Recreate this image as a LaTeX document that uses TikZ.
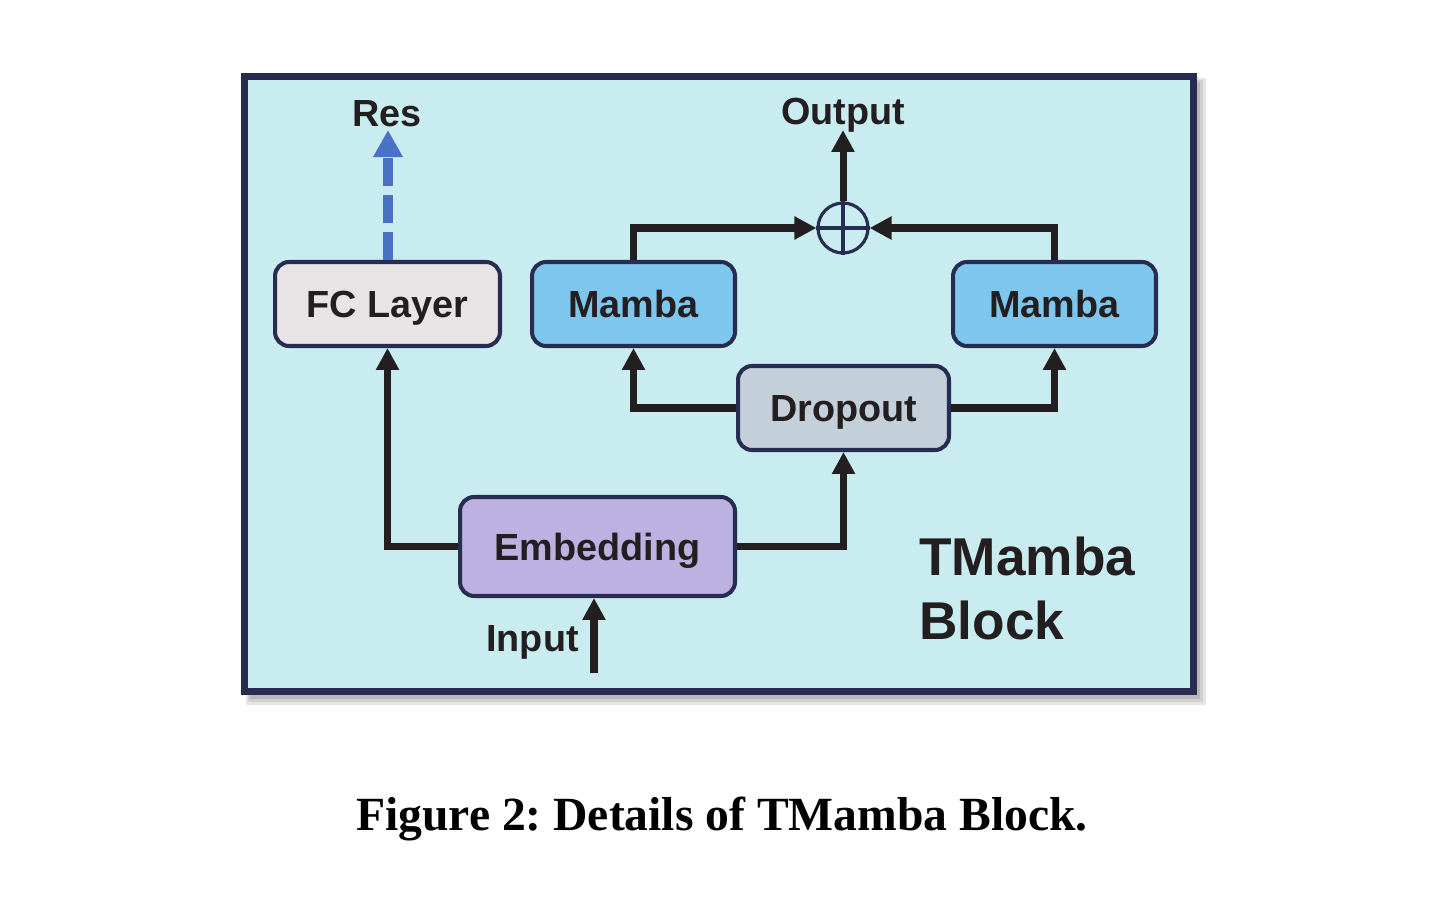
\documentclass[tikz,border=0pt]{standalone}
\usepackage{fontspec}
\setmainfont{Liberation Sans}
\newfontfamily\capfont{Liberation Serif}
\usetikzlibrary{arrows.meta}
\definecolor{frameblue}{HTML}{262D50}
\definecolor{bgcyan}{HTML}{C9ECF0}
\definecolor{fcfill}{HTML}{E8E4E6}
\definecolor{mambafill}{HTML}{7FC6EE}
\definecolor{dropfill}{HTML}{C3D0DA}
\definecolor{embfill}{HTML}{BCB1E0}
\definecolor{txt}{HTML}{231F20}
\definecolor{resblue}{HTML}{4A72C4}
\frenchspacing
\tikzset{
  blk/.style={draw=frameblue, line width=2.3pt, rounded corners=8pt, text=txt,
    font=\bfseries\fontsize{21.5}{26}\selectfont, inner sep=0pt, minimum height=1.68cm,
    text height=15.4pt, text depth=0pt},
  conn/.style={draw=txt, line width=4pt, -{Triangle[length=12.5pt,width=12.5pt]}},
  lbl/.style={text=txt, font=\bfseries\fontsize{21.5}{26}\selectfont, inner sep=0pt},
}
\begin{document}
\begin{tikzpicture}[x=0.02cm,y=-0.02cm]
\useasboundingbox[fill=white] (0,0) rectangle (1432,906);
% shadow
\fill[black!10] (246,78) rectangle (1206,705);
\fill[black!18] (248,80) rectangle (1203,702);
\fill[black!28] (250,82) rectangle (1200,699);
% frame
\draw[draw=frameblue, fill=bgcyan, line width=4pt] (244.5,76.5) rectangle (1193.5,691.5);
% blocks
\node[blk, fill=fcfill, minimum width=4.5cm] (fc) at (387.5,304) {FC Layer};
\node[blk, fill=mambafill, minimum width=4.06cm] (m1) at (633.5,304) {Mamba};
\node[blk, fill=mambafill, minimum width=4.06cm] (m2) at (1054.5,304) {Mamba};
\node[blk, fill=dropfill, minimum width=4.22cm] (drop) at (843.5,408) {Dropout};
\node[blk, fill=embfill, minimum width=5.5cm, minimum height=1.98cm] (emb) at (597.5,546.5) {Embedding};
\node[draw=frameblue, line width=1.8pt, circle, minimum size=1.0cm, inner sep=0pt] (plus) at (843,228) {};
\draw[frameblue, line width=1.8pt] (plus.north) -- (plus.south) (plus.west) -- (plus.east);
% labels
\node[lbl, anchor=base] (res) at (387,126) {Res};
\node[lbl, anchor=base] (out) at (843,124) {Output};
\node[lbl, anchor=base east] (inp) at (579,651) {Input};
\node[text=txt, font=\bfseries\fontsize{30.3}{36.3}\selectfont, anchor=north west, align=left, inner sep=0pt] (title) at (919,537) {TMamba\\Block};
\coordinate (rest) at (388,130);
\coordinate (outt) at (843,130);
\coordinate (inb) at (594,673);
% connectors
\draw[resblue, line width=5.3pt, dash pattern=on 16pt off 5pt, -{Triangle[length=15.5pt,width=16pt]}] (fc.north -| rest) -- (rest);
\draw[conn] (emb.west) -| (fc.south);
\draw[conn] (emb.east) -| (drop.south);
\draw[conn] (drop.west) -| (m1.south);
\draw[conn] (drop.east) -| (m2.south);
\draw[conn] (m1.north) |- (plus.west);
\draw[conn] (m2.north) |- (plus.east);
\draw[conn] (plus.north) -- (outt);
\draw[conn] (inb) -- (inb |- emb.south);
% caption
\node[text=black, font=\capfont\bfseries\fontsize{27.1}{31}\selectfont, anchor=base, inner sep=0pt] (cap) at (722,830) {Figure 2: Details of TMamba Block.};
\end{tikzpicture}
\end{document}
